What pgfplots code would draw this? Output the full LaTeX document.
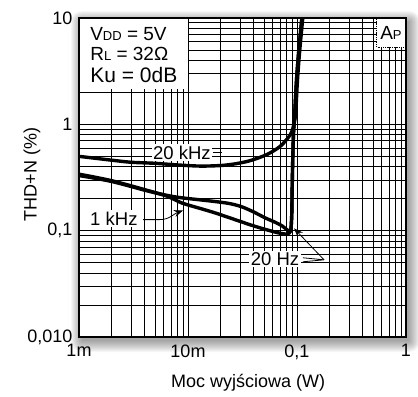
\documentclass[border=0pt]{standalone}
\usepackage{fontspec}
\setmainfont{Liberation Sans}
\usepackage{pgfplots}
\pgfplotsset{compat=1.18}
\usetikzlibrary{arrows.meta}

\begin{document}
\begin{tikzpicture}
% soft drop shadow behind the axis box (axis box spans (0,0)--(327pt,319pt))
\foreach \i in {0,...,11} {
  \fill[black, opacity=0.035, rounded corners=\i pt]
    ({3pt-\i pt},{-4pt-\i pt}) rectangle ({330pt+\i pt},{315pt+\i pt});
}
\begin{axis}[name=ax,
 xmode=log, ymode=log, scale only axis, width=327pt, height=319pt,
 xmin=0.001,xmax=1,ymin=0.01,ymax=10,
 xtick={0.001,0.01,0.1,1}, xticklabels={1m,10m,{0,1},1},
 ytick={0.01,0.1,1,10}, yticklabels={{0,010},{0,1},1,10},
 minor xtick={0.002,0.003,0.004,0.005,0.006,0.007,0.008,0.009,0.02,0.03,0.04,0.05,0.06,0.07,0.08,0.09,0.2,0.3,0.4,0.5,0.6,0.7,0.8,0.9},
 minor ytick={0.02,0.03,0.04,0.05,0.06,0.07,0.08,0.09,0.2,0.3,0.4,0.5,0.6,0.7,0.8,0.9,2,3,4,5,6,7,8,9},
 grid=both, major grid style={black, line width=0.75pt}, minor grid style={black,line width=0.75pt},
 major tick length=0pt, minor tick length=0pt,
 axis line style={line width=1.8pt},
 ticklabel style={font=\fontsize{18}{20}\selectfont},
 xticklabel style={yshift=-4pt},
 yticklabel style={xshift=-3pt},
 /pgf/number format/assume math mode=true,
 xlabel={Moc wyjściowa (W)}, ylabel={THD+N (\%)},
 label style={font=\fontsize{18}{20}\selectfont},
 xlabel style={at={(axis description cs:0.517,-0.144)}, anchor=center},
 ylabel style={at={(axis description cs:-0.144,0.51)}, anchor=center},
 axis background/.style={fill=white},
]
% white boxes
\fill[white] ([xshift=0.9pt,yshift=-0.9pt]rel axis cs:0,1) rectangle (rel axis cs:0.333,0.777);
\fill[white] ([xshift=-0.9pt,yshift=-0.9pt]rel axis cs:1,1) rectangle (rel axis cs:0.911,0.909);
\draw[densely dotted, line width=0.8pt] ([yshift=-0.9pt]rel axis cs:0.911,1) -- (rel axis cs:0.911,0.909) -- ([xshift=-0.9pt]rel axis cs:1,0.909);

% 20 kHz
\addplot[black, line width=3.4pt, line join=round, smooth, tension=0.5] coordinates {
(0.001,0.50) (0.002,0.46) (0.003,0.44) (0.005,0.43) (0.008,0.415) (0.013,0.405) (0.02,0.41) (0.027,0.425) (0.037,0.455) (0.053,0.52) (0.07,0.62) (0.083,0.75) (0.089,0.84) (0.093,0.97) (0.097,1.25) (0.101,2.6) (0.106,5) (0.113,10)
};
% 1 kHz
\addplot[black, line width=3.4pt, line join=round, smooth, tension=0.5] coordinates {
(0.001,0.34) (0.002,0.295) (0.0045,0.235) (0.0065,0.21) (0.0088,0.182) (0.0129,0.162) (0.0177,0.147) (0.027,0.127) (0.041,0.11) (0.063,0.097) (0.078,0.093) (0.085,0.095) (0.088,0.104) (0.0895,0.14) (0.090,0.2) (0.091,0.38) (0.092,0.6) (0.093,0.85) (0.095,1.2) (0.099,2.6) (0.104,5) (0.111,10)
};
% 20 Hz
\addplot[black, line width=3.4pt, line join=round, smooth, tension=0.5] coordinates {
(0.001,0.33) (0.002,0.29) (0.0045,0.233) (0.0076,0.208) (0.0129,0.195) (0.0177,0.188) (0.024,0.18) (0.031,0.168) (0.04,0.15) (0.051,0.132) (0.063,0.12) (0.073,0.111) (0.081,0.102) (0.086,0.099) (0.088,0.104) (0.0895,0.14) (0.090,0.2) (0.091,0.38) (0.092,0.6) (0.093,0.85) (0.095,1.2) (0.099,2.6) (0.104,5) (0.111,10)
};

% box texts
\node[anchor=base west, inner sep=0pt, font=\fontsize{19}{20}\selectfont] at (rel axis cs:0.034,0.931) {V{\fontsize{13}{14}\selectfont DD} = 5V};
\node[anchor=base west, inner sep=0pt, font=\fontsize{19}{20}\selectfont] at (rel axis cs:0.034,0.868) {R{\fontsize{13}{14}\selectfont L} = 32Ω};
\node[anchor=base west, inner sep=0pt, font=\fontsize{21}{22}\selectfont] at (rel axis cs:0.034,0.797) {Ku = 0dB};
\node[inner sep=0pt] at (rel axis cs:0.954,0.953) {\fontsize{19}{20}\selectfont A\fontsize{13}{14}\selectfont P};

% curve labels
\node[fill=white, inner sep=1.5pt, font=\fontsize{18.5}{20}\selectfont] at (axis cs:0.0088,0.544) {20 kHz};
\draw[line width=0.8pt] (axis cs:0.0169,0.54) -- (axis cs:0.0205,0.54);
\node[fill=white, inner sep=1.5pt, font=\fontsize{18.5}{20}\selectfont] at (axis cs:0.00209,0.13) {1 kHz};
\draw[line width=0.8pt, -{Stealth[length=9pt,width=7pt]}] (axis cs:0.00387,0.127) -- (axis cs:0.0055,0.127) to[out=0,in=200] (axis cs:0.009,0.155);
\node[fill=white, inner sep=1.5pt, font=\fontsize{18.5}{20}\selectfont] at (axis cs:0.0628,0.0545) {20 Hz};
\draw[line width=0.8pt] (axis cs:0.1135,0.0556) -- (axis cs:0.177,0.0532) -- (axis cs:0.1135,0.051);
\draw[line width=0.8pt, -{Stealth[length=9pt,width=7pt]}] (axis cs:0.177,0.0532) -- (axis cs:0.094,0.105);
\end{axis}
\pgfresetboundingbox
\path ([shift={(-79pt,-59pt)}]ax.south west) rectangle ([shift={(12pt,18pt)}]ax.north east);
\end{tikzpicture}
\end{document}
